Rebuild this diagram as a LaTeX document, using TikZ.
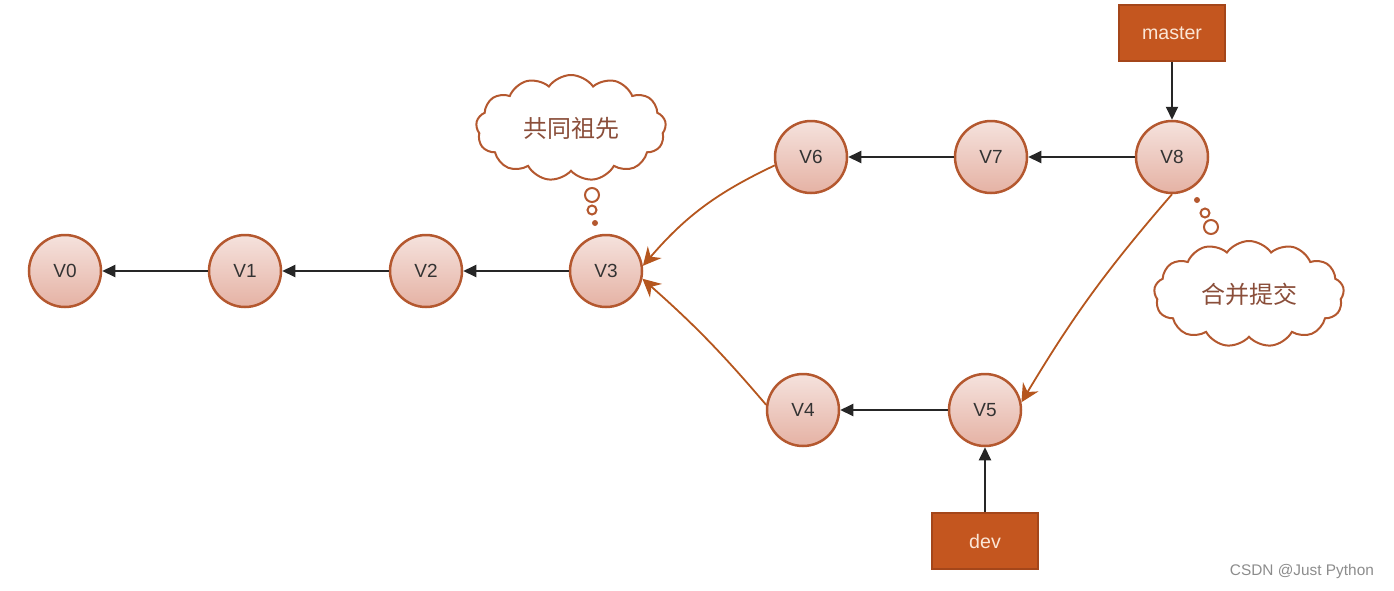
\documentclass[tikz,border=0pt]{standalone}
\usepackage{fontspec}
\setmainfont{Liberation Sans}
\newfontfamily\cjk{Noto Sans CJK SC}
\usetikzlibrary{arrows.meta,shapes.symbols}
\definecolor{brd}{HTML}{B4582F}
\definecolor{ctop}{HTML}{F5E2DD}
\definecolor{cbot}{HTML}{E5B2A4}
\definecolor{boxfill}{HTML}{C4561F}
\definecolor{boxbrd}{HTML}{A4461A}
\definecolor{boxtxt}{HTML}{FBE6D6}
\definecolor{cloudtxt}{HTML}{8A4E3A}
\definecolor{arr}{HTML}{B5561E}
\tikzset{
  ver/.style={circle, draw=brd, line width=1.25pt, top color=ctop, bottom color=cbot,
    minimum size=36pt, inner sep=0pt, font=\fontsize{9.5}{10}\selectfont, text=black!80},
  branch/.style={rectangle, draw=boxbrd, line width=1pt, fill=boxfill, minimum width=53pt,
    minimum height=28pt, text=boxtxt, font=\fontsize{9.8}{10}\selectfont},
  blk/.style={draw=black!85, line width=1pt, -{Triangle[length=6.5pt,width=6pt]}},
  org/.style={draw=arr, line width=0.9pt, -{Stealth[length=9pt,width=9pt,inset=3pt]}, color=arr},
  thought/.style={cloud, cloud puffs=13, cloud puff arc=110, aspect=1.9, draw=brd, line width=1pt,
    fill=white, minimum width=95pt, minimum height=53pt, inner sep=0pt, text=cloudtxt,
    font=\cjk\fontsize{12}{12}\selectfont},
  bub/.style={circle, draw=brd, line width=1pt, fill=white, inner sep=0pt},
  dot/.style={circle, fill=brd, inner sep=0pt, minimum size=3pt}
}
\begin{document}
\begin{tikzpicture}[x=0.5pt,y=0.5pt]
\useasboundingbox (0,0) rectangle (1394,-590);
\node[ver] (V0) at (65,-271) {V0};
\node[ver] (V1) at (245,-271) {V1};
\node[ver] (V2) at (426,-271) {V2};
\node[ver] (V3) at (606,-271) {V3};
\node[ver] (V6) at (811,-157) {V6};
\node[ver] (V7) at (991,-157) {V7};
\node[ver] (V8) at (1172,-157) {V8};
\node[ver] (V4) at (803,-410) {V4};
\node[ver] (V5) at (985,-410) {V5};
\node[branch] (master) at (1172,-33) {master};
\node[branch] (dev) at (985,-541) {dev};

\node[thought] (c1) at (571,-128) {共同祖先};
\node[bub, minimum size=7pt] (b11) at (592,-195) {};
\node[bub, minimum size=4.5pt] (b12) at (592,-210) {};
\node[dot] (b13) at (595,-223) {};

\node[thought] (c2) at (1249,-294) {合并提交};
\node[bub, minimum size=7pt] (b21) at (1211,-227) {};
\node[bub, minimum size=4.5pt] (b22) at (1205,-213) {};
\node[dot] (b23) at (1197,-200) {};

\draw[blk] (V1) -- (V0);
\draw[blk] (V2) -- (V1);
\draw[blk] (V3) -- (V2);
\draw[blk] (V7) -- (V6);
\draw[blk] (V8) -- (V7);
\draw[blk] (V5) -- (V4);
\draw[blk] (master) -- (V8);
\draw[blk] (dev) -- (V5);

\draw[org] (V6.-167) to[bend right=12] (V3.8);
\draw[org] (V4.172) to[bend right=4] (V3.-12);
\draw[org] (V8.-90) to[bend right=5] (V5.12);

\node[text=black!45, font=\fontsize{7.7}{8}\selectfont, anchor=east] (wm) at (1381,-572) {CSDN @Just Python};
\end{tikzpicture}
\end{document}
